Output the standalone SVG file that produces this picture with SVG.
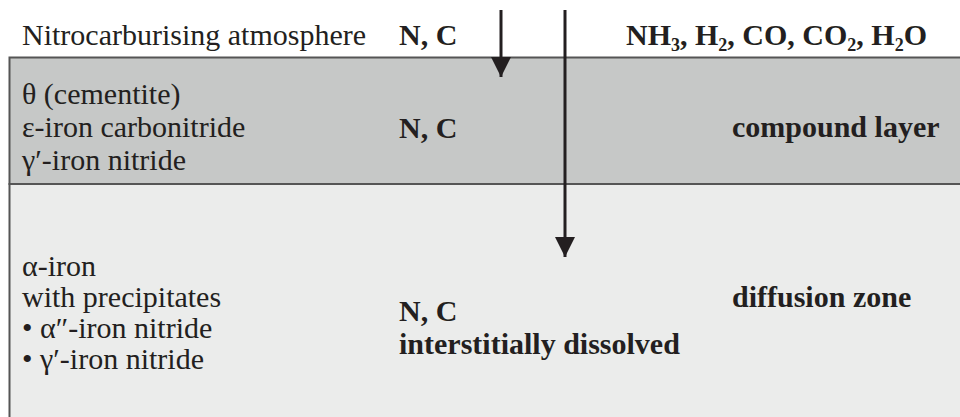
<svg xmlns="http://www.w3.org/2000/svg" width="960" height="417" viewBox="0 0 960 417">
<defs>
<style>
text{font-family:Liberation Serif,Tinos,Times New Roman,DejaVu Serif,serif;font-size:30px;fill:#231f20}
.b{font-weight:bold}
.sub{font-size:18px}
.arr{stroke:#231f20;stroke-width:3;fill:none}
</style>
<marker id="ah" markerUnits="userSpaceOnUse" markerWidth="22" markerHeight="26" refX="20" refY="11" orient="auto" viewBox="0 0 22 22">
<path d="M0,1 L20,11 L0,21 Z" fill="#231f20"/>
</marker>
</defs>
<rect width="960" height="417" fill="#ffffff"/>
<g id="compound-layer">
<rect x="9.5" y="57.5" width="960" height="126.5" fill="#c6c8c7" stroke="#555555" stroke-width="2"/>
<text x="22" y="104">θ (cementite)</text>
<text x="22" y="137">ε-iron carbonitride</text>
<text x="22" y="170">γ′-iron nitride</text>
<text class="b" x="399" y="138">N, C</text>
<text class="b" x="732" y="137">compound layer</text>
</g>
<g id="diffusion-zone">
<rect x="9.5" y="184" width="960" height="240" fill="#ebeceb" stroke="#555555" stroke-width="2"/>
<text x="22" y="276">α-iron</text>
<text x="22" y="307">with precipitates</text>
<text x="22" y="338">• α″-iron nitride</text>
<text x="22" y="369">• γ′-iron nitride</text>
<text class="b" x="399" y="321">N, C</text>
<text class="b" x="399" y="354">interstitially dissolved</text>
<text class="b" x="732" y="307">diffusion zone</text>
</g>
<g id="atmosphere">
<text x="22" y="45">Nitrocarburising atmosphere</text>
<text class="b" x="399" y="45">N, C</text>
<text class="b" x="626" y="45">NH<tspan class="sub" dy="6">3</tspan><tspan dy="-6">, H</tspan><tspan class="sub" dy="6">2</tspan><tspan dy="-6">, CO, CO</tspan><tspan class="sub" dy="6">2</tspan><tspan dy="-6">, H</tspan><tspan class="sub" dy="6">2</tspan><tspan dy="-6">O</tspan></text>
</g>
<g id="connectors">
<line class="arr" x1="501" y1="10" x2="501" y2="77" marker-end="url(#ah)"/>
<line class="arr" x1="565" y1="10" x2="565" y2="257" marker-end="url(#ah)"/>
</g>
</svg>
